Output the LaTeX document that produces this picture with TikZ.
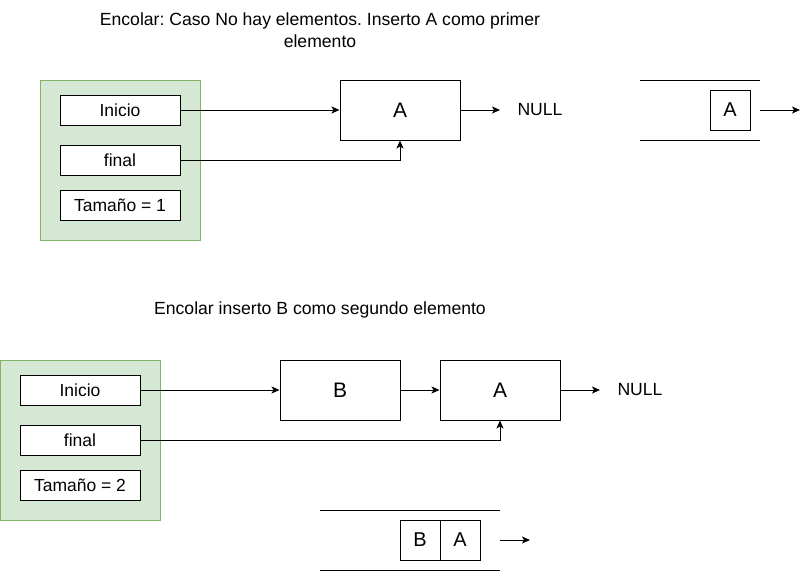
\documentclass[tikz,border=0pt]{standalone}
\usepackage{fontspec}
\setmainfont{Liberation Sans}
\usetikzlibrary{arrows.meta}
\definecolor{gfill}{HTML}{D5E8D4}
\definecolor{gdraw}{HTML}{82B366}
\frenchspacing
\begin{document}
\frenchspacing
\begin{tikzpicture}[x=1pt,y=-1pt,
  txt/.style={font=\frenchspacing\fontsize{17.6}{22}\selectfont, inner sep=0pt},
  field/.style={draw=black, fill=white, line width=1pt, minimum width=120pt, minimum height=30pt, inner sep=0pt, font=\fontsize{17.5}{20}\selectfont},
  holder/.style={draw=gdraw, fill=gfill, line width=1pt, minimum width=160pt, minimum height=160pt, inner sep=0pt},
  elem/.style={draw=black, fill=white, line width=1pt, minimum width=120pt, minimum height=60pt, inner sep=0pt, font=\fontsize{21}{24}\selectfont},
  qbox/.style={draw=black, fill=white, line width=1pt, minimum width=40pt, minimum height=40pt, inner sep=0pt, font=\fontsize{20}{24}\selectfont},
  qline/.style={line width=1pt},
  arr/.style={line width=1pt, -{Stealth[length=8pt,width=7pt,inset=2pt]}}
]
\useasboundingbox (0,0) rectangle (809,571);

% ---------- top ----------
\node[txt, align=center] (t1) at (320,30) {Encolar: Caso No hay elementos. Inserto A como primer\\elemento};
\node[holder] (g1) at (120,160) {};
\node[field] (ini1) at (120,110) {Inicio};
\node[field] (fin1) at (120,160) {final};
\node[field] (tam1) at (120,205) {Tamaño = 1};
\node[elem] (a1) at (400,110) {A};
\node[txt] (null1) at (540,110) {NULL};
\draw[arr] (ini1.east) -- (a1.west);
\draw[arr] (fin1.east) -| (a1.south);
\coordinate (n1) at (500,110);
\draw[arr] (a1.east) -- (n1);

\coordinate (q1a) at (640,80);
\coordinate (q1b) at (760,80);
\coordinate (q1c) at (640,140);
\coordinate (q1d) at (760,140);
\draw[qline] (q1a) -- (q1b);
\draw[qline] (q1c) -- (q1d);
\node[qbox] (qa1) at (730,110) {A};
\coordinate (q1s) at (760,110);
\coordinate (q1e) at (800,110);
\draw[arr] (q1s) -- (q1e);

% ---------- bottom ----------
\node[txt] (t2) at (320,310) {Encolar inserto B como segundo elemento};
\node[holder] (g2) at (80,440) {};
\node[field] (ini2) at (80,390) {Inicio};
\node[field] (fin2) at (80,440) {final};
\node[field] (tam2) at (80,485) {Tamaño = 2};
\node[elem] (b2) at (340,390) {B};
\node[elem] (a2) at (500,390) {A};
\node[txt] (null2) at (640,390) {NULL};
\draw[arr] (ini2.east) -- (b2.west);
\draw[arr] (b2.east) -- (a2.west);
\draw[arr] (fin2.east) -| (a2.south);
\coordinate (n2) at (600,390);
\draw[arr] (a2.east) -- (n2);

\coordinate (q2a) at (320,510);
\coordinate (q2b) at (500,510);
\coordinate (q2c) at (320,570);
\coordinate (q2d) at (500,570);
\draw[qline] (q2a) -- (q2b);
\draw[qline] (q2c) -- (q2d);
\node[qbox] (qb2) at (420,540) {B};
\node[qbox] (qa2) at (460,540) {A};
\coordinate (q2s) at (500,540);
\coordinate (q2e) at (530,540);
\draw[arr] (q2s) -- (q2e);
\end{tikzpicture}
\end{document}
